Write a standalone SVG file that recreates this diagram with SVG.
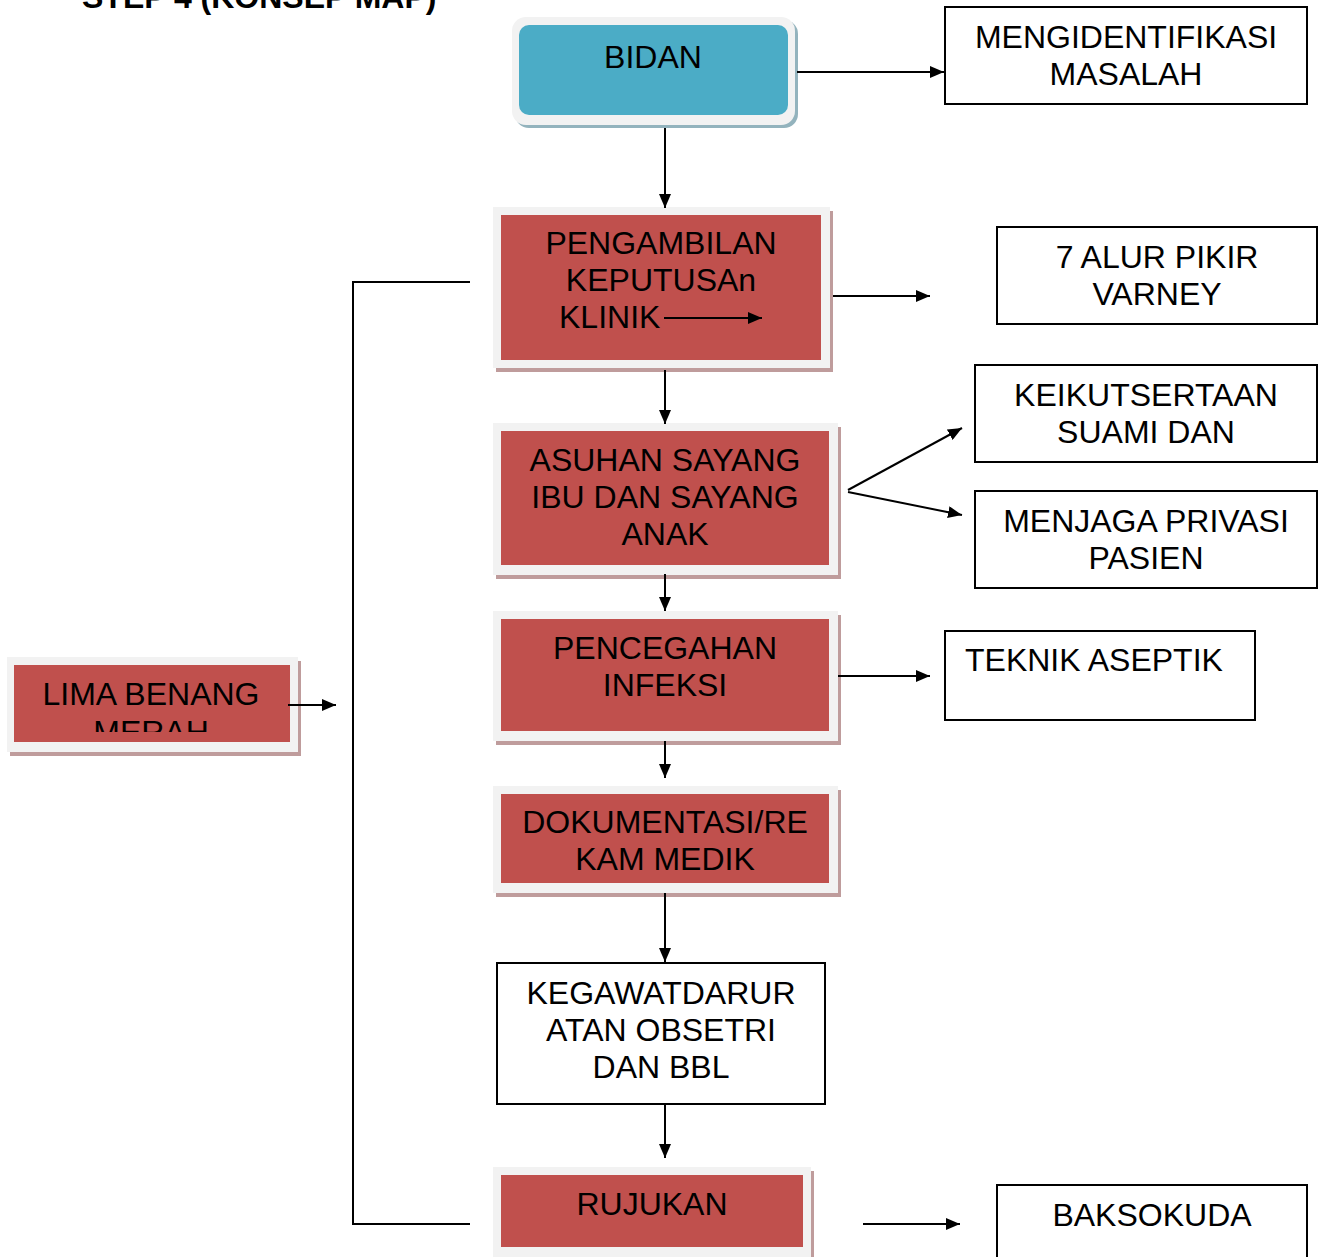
<svg xmlns="http://www.w3.org/2000/svg" width="1319" height="1257" viewBox="0 0 1319 1257">
<defs>
<style>
text{font-family:"Liberation Sans",Arial,sans-serif;font-size:32px;fill:#000;text-anchor:middle}
.title{font-weight:bold;font-size:32px;text-anchor:start}
.frame{fill:#f2f2f2}
.shadow{fill:#bf9c9c}
.red{fill:#c0504d}
.wbox{fill:#fff;stroke:#000;stroke-width:2}
.ln{fill:none;stroke:#000;stroke-width:2}
.ar{fill:none;stroke:#000;stroke-width:2;marker-end:url(#ah)}
</style>
<marker id="ah" viewBox="0 0 14 12" refX="14" refY="6" markerWidth="14" markerHeight="12" markerUnits="userSpaceOnUse" orient="auto"><path d="M0,0L14,6L0,12z" fill="#000"/></marker>
<clipPath id="limaclip"><rect x="14" y="665" width="276" height="67"/></clipPath>
</defs>
<rect width="1319" height="1257" fill="#fff"/>
<text class="title" x="82" y="8">STEP 4 (KONSEP MAP)</text>

<g id="bidan">
<rect x="515" y="20" width="283" height="108" rx="14" fill="#93b3bd"/>
<rect x="512" y="17" width="283" height="108" rx="14" fill="#f2f2f2"/>
<rect x="519" y="25" width="269" height="90" rx="10" fill="#4bacc6"/>
<text x="653" y="68">BIDAN</text>
</g>

<g id="mengidentifikasi">
<rect class="wbox" x="945" y="7" width="362" height="97"/>
<text x="1126" y="48">MENGIDENTIFIKASI</text>
<text x="1126" y="85">MASALAH</text>
</g>

<g id="pengambilan">
<rect class="shadow" x="496" y="211" width="337" height="161"/>
<rect class="frame" x="493" y="207" width="337" height="161"/>
<rect class="red" x="501" y="215" width="320" height="145"/>
<text x="661" y="254">PENGAMBILAN</text>
<text x="661" y="291">KEPUTUSAn</text>
<text x="559" y="328" style="text-anchor:start">KLINIK</text>
</g>

<g id="alur">
<rect class="wbox" x="997" y="227" width="320" height="97"/>
<text x="1157" y="268">7 ALUR PIKIR</text>
<text x="1157" y="305">VARNEY</text>
</g>

<g id="asuhan">
<rect class="shadow" x="496" y="427" width="345" height="152"/>
<rect class="frame" x="493" y="423" width="345" height="152"/>
<rect class="red" x="501" y="431" width="328" height="134"/>
<text x="665" y="471">ASUHAN SAYANG</text>
<text x="665" y="508">IBU DAN SAYANG</text>
<text x="665" y="545">ANAK</text>
</g>

<g id="keikutsertaan">
<rect class="wbox" x="975" y="365" width="342" height="97"/>
<text x="1146" y="406">KEIKUTSERTAAN</text>
<text x="1146" y="443">SUAMI DAN</text>
</g>

<g id="menjaga">
<rect class="wbox" x="975" y="491" width="342" height="97"/>
<text x="1146" y="532">MENJAGA PRIVASI</text>
<text x="1146" y="569">PASIEN</text>
</g>

<g id="pencegahan">
<rect class="shadow" x="496" y="615" width="345" height="130"/>
<rect class="frame" x="493" y="611" width="345" height="130"/>
<rect class="red" x="501" y="619" width="328" height="112"/>
<text x="665" y="659">PENCEGAHAN</text>
<text x="665" y="696">INFEKSI</text>
</g>

<g id="teknik">
<rect class="wbox" x="945" y="631" width="310" height="89"/>
<text x="965" y="671" style="text-anchor:start">TEKNIK ASEPTIK</text>
</g>

<g id="dokumentasi">
<rect class="shadow" x="496" y="790" width="345" height="107"/>
<rect class="frame" x="493" y="786" width="345" height="107"/>
<rect class="red" x="501" y="794" width="328" height="89"/>
<text x="665" y="833">DOKUMENTASI/RE</text>
<text x="665" y="870">KAM MEDIK</text>
</g>

<g id="kegawatdaruratan">
<rect class="wbox" x="497" y="963" width="328" height="141"/>
<text x="661" y="1004">KEGAWATDARUR</text>
<text x="661" y="1041">ATAN OBSETRI</text>
<text x="661" y="1078">DAN BBL</text>
</g>

<g id="rujukan">
<rect class="shadow" x="496" y="1171" width="318" height="90"/>
<rect class="frame" x="493" y="1167" width="318" height="90"/>
<rect class="red" x="501" y="1175" width="302" height="72"/>
<text x="652" y="1215">RUJUKAN</text>
</g>

<g id="baksokuda">
<rect class="wbox" x="997" y="1185" width="310" height="80"/>
<text x="1152" y="1226">BAKSOKUDA</text>
</g>

<g id="lima">
<rect class="shadow" x="10" y="661" width="291" height="95"/>
<rect class="frame" x="7" y="657" width="291" height="95"/>
<rect class="red" x="14" y="665" width="276" height="77"/>
<g clip-path="url(#limaclip)">
<text x="151" y="705">LIMA BENANG</text>
<text x="151" y="743">MERAH</text>
</g>
</g>

<g id="connectors">
<line class="ar" x1="797" y1="72" x2="944" y2="72"/>
<line class="ar" x1="665" y1="128" x2="665" y2="208"/>
<line class="ar" x1="664" y1="318" x2="762" y2="318"/>
<line class="ar" x1="833" y1="296" x2="930" y2="296"/>
<line class="ar" x1="665" y1="370" x2="665" y2="424"/>
<line class="ar" x1="848" y1="490" x2="962" y2="428"/>
<line class="ar" x1="848" y1="492" x2="962" y2="515"/>
<line class="ar" x1="665" y1="574" x2="665" y2="611"/>
<line class="ar" x1="838" y1="676" x2="930" y2="676"/>
<line class="ar" x1="665" y1="741" x2="665" y2="778"/>
<line class="ar" x1="665" y1="893" x2="665" y2="962"/>
<line class="ar" x1="665" y1="1105" x2="665" y2="1158"/>
<line class="ar" x1="863" y1="1224" x2="960" y2="1224"/>
<line class="ar" x1="288" y1="705" x2="336" y2="705"/>
<polyline class="ln" points="470,282 353,282 353,1224 470,1224"/>
</g>
</svg>
